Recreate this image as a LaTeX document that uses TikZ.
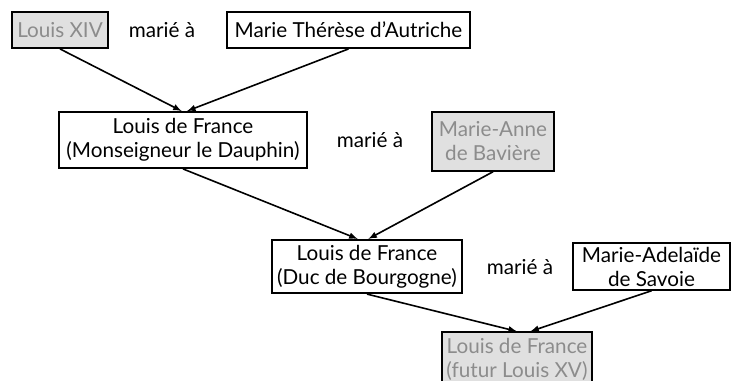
\documentclass[tikz,border=0pt]{standalone}
\usepackage{fontspec}
\setmainfont{Lato}
\definecolor{fondgris}{HTML}{E0E0E0}
\definecolor{textegris}{HTML}{8C8C8C}
\begin{document}
\begin{tikzpicture}[x=0.75pt,y=-0.75pt,
        personne/.style={draw,line width=1.4pt,align=center,inner xsep=2.5pt,inner ysep=1pt,font=\fontsize{15.5}{18}\selectfont},
        grise/.style={fill=fondgris,text=textegris},
        union/.style={font=\fontsize{15.5}{18}\selectfont}]
        \useasboundingbox (0,0) rectangle (732,381);
        \begin{scope}[every node/.style={personne}]
            \node[grise,minimum width=72pt,minimum height=27pt] (louisXIV) at (60,30) {Louis XIV};
            \node[minimum width=182pt,minimum height=27pt] (marieTherese) at (348.5,30) {Marie Thérèse d'Autriche};

            \node[minimum width=186pt,minimum height=42pt] (dauphin) at (183,140) {Louis de France\\(Monseigneur le Dauphin)};
            \node[grise,minimum width=91.5pt,minimum height=44pt] (marieAnne) at (493,141.5) {Marie-Anne\\de Bavière};

            \node[minimum width=142.5pt,minimum height=40pt] (bourgogne) at (367,266.5) {Louis de France\\(Duc de Bourgogne)};
            \node[minimum width=118pt,minimum height=35pt] (marieAdelaide) at (651.5,266.5) {Marie-Adelaïde\\de Savoie};

            \node[grise,minimum width=112.5pt,minimum height=40pt] (louisXV) at (517,359) {Louis de France\\(futur Louis XV)};
        \end{scope}
        \node[union] (m1) at (162,30) {marié à};
        \node[union] (m2) at (370,140) {marié à};
        \node[union] (m3) at (520,267) {marié à};
        \begin{scope}[line width=1.2pt,-latex]
            \foreach \p/\e/\d in {louisXIV/dauphin/-1,marieTherese/dauphin/3,
                    dauphin/bourgogne/-7,marieAnne/bourgogne/1,
                    bourgogne/louisXV/0,marieAdelaide/louisXV/10}
                {\draw (\p.south)--([xshift=\d pt]\e.north);}
        \end{scope}
\end{tikzpicture}
\end{document}
